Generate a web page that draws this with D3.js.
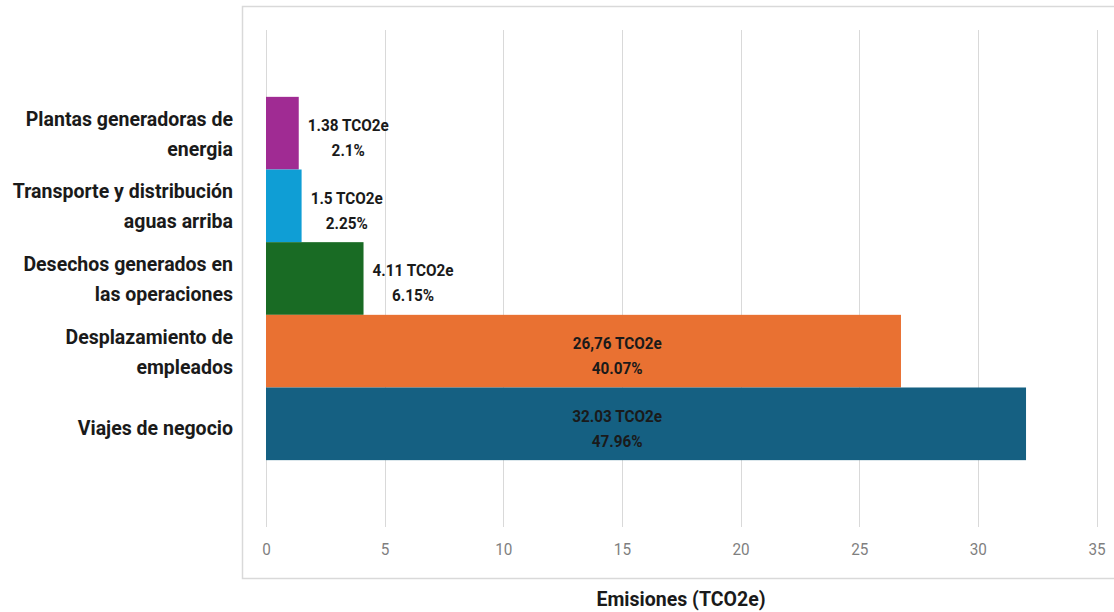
<!DOCTYPE html>
<html>
<head>
<meta charset="utf-8">
<script src="https://cdn.jsdelivr.net/npm/d3@7"></script>
<style>
  html, body { margin: 0; padding: 0; background: #ffffff; }
  svg { display: block; }
  .cat { font-family: Roboto, "Liberation Sans", sans-serif; font-weight: bold; font-size: 21px; fill: #1a1a1a; }
  .val { font-family: Roboto, "Liberation Sans", sans-serif; font-weight: bold; font-size: 17px; fill: #1a1a1a; }
  .tick text { font-family: Roboto, "Liberation Sans", sans-serif; font-size: 17px; fill: #7f7f7f; }
  .title { font-family: Roboto, "Liberation Sans", sans-serif; font-weight: bold; font-size: 21px; fill: #1a1a1a; }
</style>
</head>
<body>
<svg id="chart" width="1114" height="612"></svg>
<script>
// Emission sources, listed top to bottom
const categories = [
  "Plantas generadoras de\nenergia",
  "Transporte y distribución\naguas arriba",
  "Desechos generados en\nlas operaciones",
  "Desplazamiento de\nempleados",
  "Viajes de negocio"
];
// Emissions in TCO2e
const values = [1.38, 1.5, 4.11, 26.76, 32.03];
const valueText = ["1.38 TCO2e", "1.5 TCO2e", "4.11 TCO2e", "26,76 TCO2e", "32.03 TCO2e"];
const shareText = ["2.1%", "2.25%", "6.15%", "40.07%", "47.96%"];
const barColors = ["#A02B93", "#0F9ED5", "#196B24", "#E97132", "#156082"];
const xTicks = [0, 5, 10, 15, 20, 25, 30, 35];
const axisTitle = "Emisiones (TCO2e)";

// horizontal squeeze around an anchor x, to get a narrow typeface look
function narrow(sel, ax, k) {
  sel.attr("transform", `translate(${ax},0) scale(${k},1) translate(${-ax},0)`);
}

const svg = d3.select("#chart");

// chart frame
svg.append("rect")
  .attr("x", 242.5).attr("y", 6.5)
  .attr("width", 880).attr("height", 572)
  .attr("fill", "#ffffff")
  .attr("stroke", "#d9d9d9").attr("stroke-width", 1.5);

const x = d3.scaleLinear().domain([0, 35]).range([266, 1096.5]);
const y = d3.scaleBand()
  .domain(categories)
  .range([30, 527])
  .paddingInner(0)
  .paddingOuter(0.92);

// vertical gridlines
svg.append("g")
  .selectAll("line")
  .data(xTicks)
  .join("line")
  .attr("x1", d => Math.round(x(d)) + 0.5)
  .attr("x2", d => Math.round(x(d)) + 0.5)
  .attr("y1", 30).attr("y2", 527)
  .attr("stroke", "#d9d9d9").attr("stroke-width", 1);

// tick labels
const axis = svg.append("g")
  .attr("transform", "translate(0,543)")
  .call(d3.axisBottom(x).tickValues(xTicks).tickSize(0).tickPadding(0).tickFormat(d3.format("d")));
axis.select(".domain").remove();
axis.selectAll(".tick text").attr("dy", "0.71em").each(function() {
  narrow(d3.select(this), 0, 0.9);
});

// bars
const rows = categories.map((c, i) => ({ c, v: values[i], vt: valueText[i], st: shareText[i], col: barColors[i] }));

svg.append("g")
  .selectAll("rect")
  .data(rows)
  .join("rect")
  .attr("x", x(0))
  .attr("y", d => y(d.c))
  .attr("width", d => x(d.v) - x(0))
  .attr("height", y.bandwidth())
  .attr("fill", d => d.col);

// category labels
const catG = svg.append("g");
const catRight = 233;
rows.forEach(d => {
  const lines = d.c.split("\n");
  const cy = y(d.c) + y.bandwidth() / 2;
  const t = catG.append("text")
    .attr("class", "cat")
    .attr("text-anchor", "end");
  lines.forEach((ln, k) => {
    t.append("tspan")
      .attr("x", catRight)
      .attr("y", cy + (k - (lines.length - 1) / 2) * 30 + (lines.length === 1 ? 4 : 0))
      .attr("dy", "0.35em")
      .text(ln);
  });
  narrow(t, catRight, 0.93);
});

// data labels: value and share
const labG = svg.append("g");
const kLab = 0.9;
rows.forEach(d => {
  const cy = y(d.c) + y.bandwidth() / 2;
  const t = labG.append("text")
    .attr("class", "val")
    .attr("text-anchor", "middle");
  const a = t.append("tspan").attr("y", cy - 8).attr("dy", "0.35em").text(d.vt);
  const b = t.append("tspan").attr("y", cy + 17).attr("dy", "0.35em").text(d.st);
  let cx;
  if (d.v < 10) {
    const w = Math.max(a.node().getComputedTextLength(), b.node().getComputedTextLength()) * kLab;
    cx = x(d.v) + 9 + w / 2;
  } else {
    cx = x(14.8);
  }
  a.attr("x", cx);
  b.attr("x", cx);
  narrow(t, cx, kLab);
});

// axis title
const title = svg.append("text")
  .attr("class", "title")
  .attr("x", 681).attr("y", 599)
  .attr("text-anchor", "middle")
  .attr("dy", "0.35em")
  .text(axisTitle);
narrow(title, 681, 0.93);
</script>
</body>
</html>
